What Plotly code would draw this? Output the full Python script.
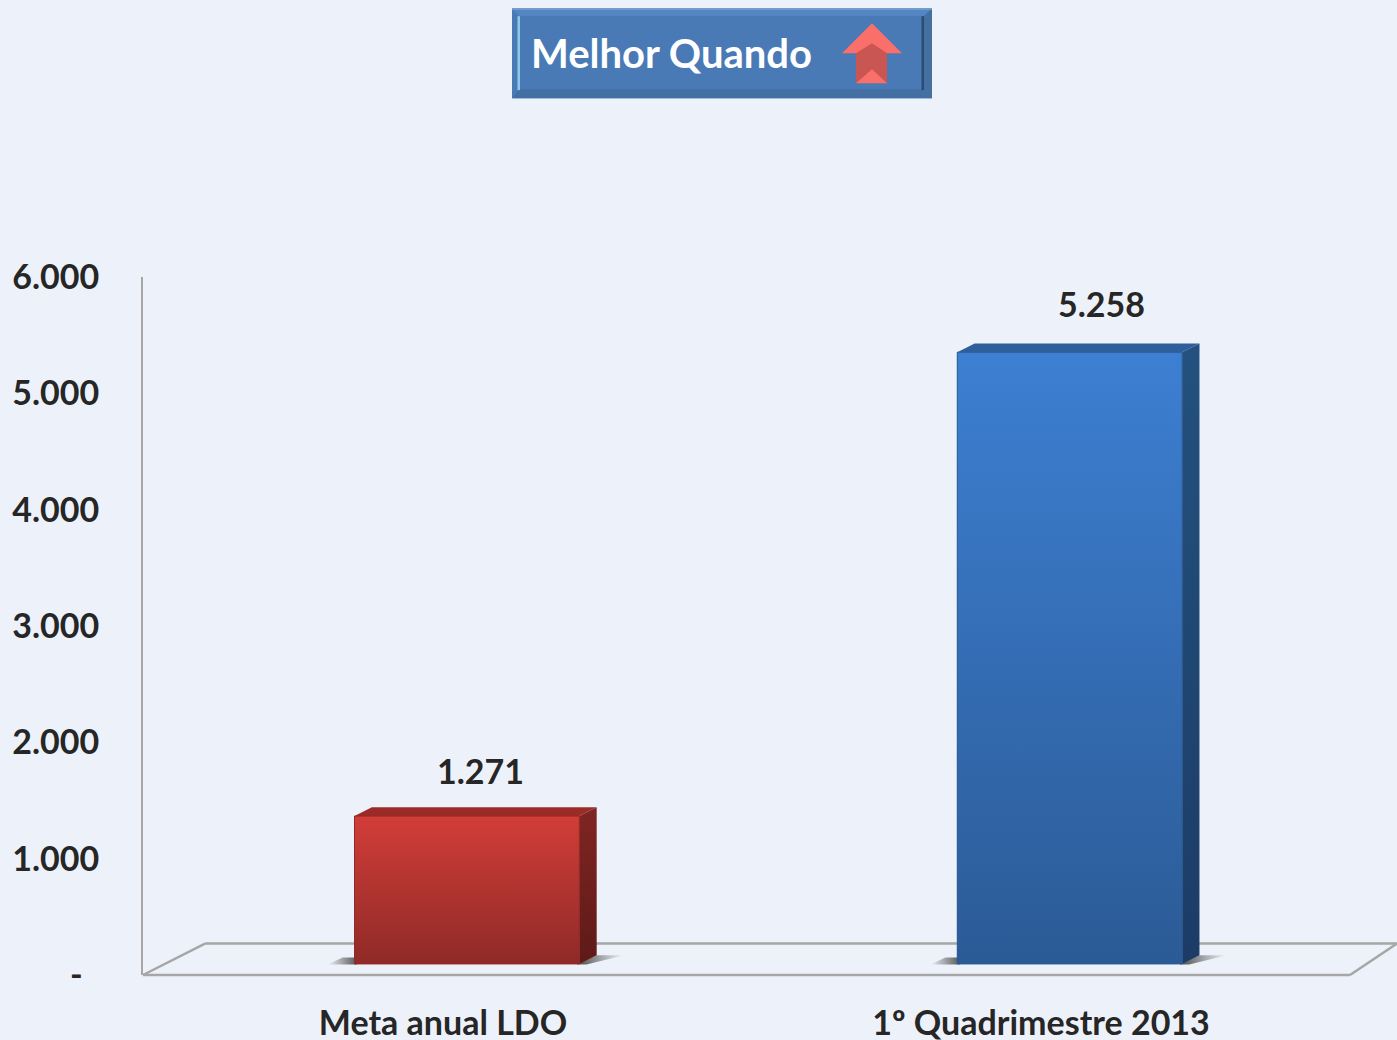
import plotly.graph_objects as go

# ---------- data ----------
categories = ["Meta anual LDO", "1º Quadrimestre 2013"]
values = [1271, 5258]
value_labels = ["1.271", "5.258"]
y_ticks = [0, 1000, 2000, 3000, 4000, 5000, 6000]
y_tick_labels = ["-\u00a0\u00a0", "1.000", "2.000", "3.000", "4.000", "5.000", "6.000"]
badge_text = "Melhor Quando"

# ---------- style / geometry ----------
W, H = 1397, 1040
L, T, B = 143, 277, 975.5
BG = "#edf2fa"
FONT = "Lato"
TXT = "#262626"
GREY = "#a6a6a6"
cat_x = [0, 1]
bar_x = [0.040, 1.048]
bar_w = 0.376
floor = 95            # data units between the axis floor and the front base
depth_x = 0.029
depth_y = 75
label_x = [0.062, 1.101]
label_shift = [57, 60]

front = [("#8f2a27", "#d23d38"), ("#2b5b96", "#3d7fd2")]
top = ["#9c2b27", "#2e5f9c"]
side = [("#5e1a18", "#7f2522"), ("#1c3c66", "#24517f")]
flat = ["#b03430", "#346da9"]

XR = (L - 443) / 598, (W - 443) / 598
X = lambda p: (p - L) / (W - L)
Y = lambda p: (B - p) / (B - T)

fig = go.Figure()

# shadows on the floor
for x, in zip(bar_x):
    l, r = x - bar_w / 2, x + bar_w / 2
    fig.add_trace(go.Scatter(
        x=[l - 0.045, l + 0.004, l + 0.004, l - 0.02, l - 0.045],
        y=[floor - 5, floor - 5, floor + 55, floor + 55, floor - 5], mode="lines", line_width=0,
        fill="toself", hoverinfo="skip", showlegend=False,
        fillgradient=dict(type="horizontal", colorscale=[[0, "rgba(70,70,70,0)"], [1, "rgba(70,70,70,0.9)"]])))
    fig.add_trace(go.Scatter(
        x=[r - 0.004, r + depth_x, r + 0.075, r + 0.012, r - 0.004],
        y=[floor - 5, floor + depth_y, floor + depth_y, floor - 5, floor - 5], mode="lines", line_width=0,
        fill="toself", hoverinfo="skip", showlegend=False,
        fillgradient=dict(type="horizontal", colorscale=[[0, "rgba(60,60,60,0.95)"], [1, "rgba(90,90,90,0)"]])))

# the bars themselves
fig.add_trace(go.Bar(x=bar_x, y=values, base=[floor, floor], width=bar_w,
                     marker=dict(color=flat, line_width=0), showlegend=False, hoverinfo="skip"))

for i, (x, v) in enumerate(zip(bar_x, values)):
    l, r = x - bar_w / 2, x + bar_w / 2
    y0, y1 = floor, floor + v
    # top face
    fig.add_trace(go.Scatter(
        x=[l, l + depth_x, r + depth_x, r, l], y=[y1, y1 + depth_y, y1 + depth_y, y1, y1],
        mode="lines", line=dict(width=0), fill="toself", fillcolor=top[i],
        hoverinfo="skip", showlegend=False))
    # side face
    fig.add_trace(go.Scatter(
        x=[r, r + depth_x, r + depth_x, r, r], y=[y0, y0 + depth_y, y1 + depth_y, y1, y0],
        mode="lines", line=dict(width=0), fill="toself",
        fillgradient=dict(type="vertical", colorscale=[[0, side[i][0]], [1, side[i][1]]]),
        hoverinfo="skip", showlegend=False))
    # front face gradient
    fig.add_trace(go.Scatter(
        x=[l, r, r, l, l], y=[y0, y0, y1, y1, y0],
        mode="lines", line=dict(width=1, color=front[i][0]), fill="toself",
        fillgradient=dict(type="vertical", colorscale=[[0, front[i][0]], [1, front[i][1]]]),
        hoverinfo="skip", showlegend=False))
    fig.add_annotation(x=label_x[i], y=v, yshift=label_shift[i], text=value_labels[i], showarrow=False,
                       yanchor="middle", xanchor="center",
                       font=dict(family=FONT, size=34, color=TXT, weight="bold"))

# floor lines and badge (decoration, positioned on the page)
def line(x0, y0, x1, y1, w=2.5, c=GREY):
    return dict(type="line", xref="paper", yref="paper", x0=X(x0), y0=Y(y0), x1=X(x1), y1=Y(y1),
                line=dict(color=c, width=w), layer="below")

def rect(x0, y0, x1, y1, c):
    return dict(type="rect", xref="paper", yref="paper", x0=X(x0), y0=Y(y0), x1=X(x1), y1=Y(y1),
                fillcolor=c, line_width=0, layer="above")

def poly(pts, c):
    d = "M" + " L".join(f"{X(a):.5f},{Y(b):.5f}" for a, b in pts) + " Z"
    return dict(type="path", xref="paper", yref="paper", path=d, fillcolor=c, line_width=0, layer="above")

shapes = [
    line(L, B, 1350, B), line(L, B, 205, 944), line(205, 944, W, 944), line(1350, B, W, 944),
    rect(512, 8, 932, 98, "#4a7ab6"),
    poly([(512, 8), (932, 8), (924, 16), (519, 16)], "#5585c2"),
    poly([(512, 98), (932, 98), (924, 89), (519, 89)], "#446fa3"),
    poly([(932, 8), (932, 98), (924, 89), (924, 16)], "#44709f"),
    rect(512, 8, 932, 9.5, "#7ba3d3"),
    rect(519, 16, 924, 89, "#4a7ab6"),
    rect(517.5, 16, 520, 90, "#8cc8ea"),
    rect(921.5, 16, 924, 90, "#2b4a74"),
    poly([(872, 23), (902, 53), (887, 53), (887, 83), (856, 83), (856, 53), (842, 53)], "#fb6f6a"),
    poly([(856, 53), (872, 43), (887, 53), (887, 83), (872, 69), (856, 83)], "#ca5653"),
]

fig.add_annotation(xref="paper", yref="paper", x=X(671), y=Y(53), text=badge_text, showarrow=False,
                   xanchor="center", yanchor="middle",
                   font=dict(family=FONT, size=40, color="white", weight="bold"))

fig.update_layout(
    width=W, height=H, autosize=False,
    margin=dict(l=L, r=0, t=T, b=H - B, pad=0, autoexpand=False),
    paper_bgcolor=BG, plot_bgcolor=BG, shapes=shapes, showlegend=False, barmode="overlay",
    font=dict(family=FONT, color=TXT),
    xaxis=dict(range=list(XR), tickmode="array", tickvals=cat_x, ticktext=categories,
               automargin=False,
               showgrid=False, zeroline=False, showline=False,
               ticks="outside", ticklen=18, tickcolor="rgba(0,0,0,0)",
               tickfont=dict(family=FONT, size=34, color=TXT, weight="bold")),
    yaxis=dict(range=[0, 6000], tickmode="array", tickvals=y_ticks, ticktext=y_tick_labels,
               automargin=False,
               showgrid=False, zeroline=False, showline=True, linecolor=GREY, linewidth=2,
               ticks="outside", ticklen=35, tickcolor="rgba(0,0,0,0)",
               tickfont=dict(family=FONT, size=34, color=TXT, weight="bold")),
)

fig.write_html("out.html", config={"displayModeBar": False},
               post_script="document.body.style.margin='0';document.body.style.background='%s';document.body.style.overflow='hidden';" % BG)
